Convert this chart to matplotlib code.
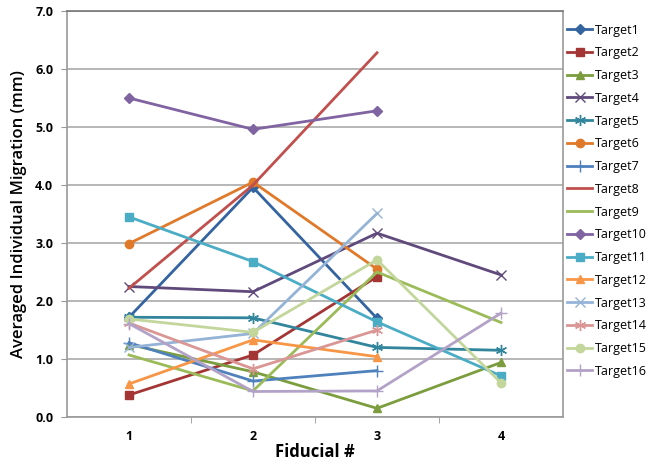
import numpy as np
import matplotlib
matplotlib.use('Agg')
import matplotlib.pyplot as plt

plt.rcParams['font.family'] = ['Open Sans', 'DejaVu Sans']

# 데이터
fiducials = [1, 2, 3, 4]
nan = np.nan
target1 = [1.72, 3.96, 1.70, nan]
target2 = [0.38, 1.07, 2.42, nan]
target3 = [1.25, 0.78, 0.15, 0.94]
target4 = [2.25, 2.16, 3.17, 2.45]
target5 = [1.72, 1.71, 1.20, 1.15]
target6 = [2.99, 4.05, 2.55, nan]
target7 = [1.28, 0.62, 0.80, nan]
target8 = [2.22, 4.00, 6.28, nan]
target9 = [1.07, 0.45, 2.50, 1.63]
target10 = [5.50, 4.96, 5.28, nan]
target11 = [3.45, 2.68, 1.64, 0.71]
target12 = [0.57, 1.33, 1.04, nan]
target13 = [1.20, 1.44, 3.51, nan]
target14 = [1.62, 0.83, 1.50, nan]
target15 = [1.69, 1.46, 2.71, 0.59]
target16 = [1.61, 0.44, 0.45, 1.79]

series = [target1, target2, target3, target4, target5, target6, target7, target8,
          target9, target10, target11, target12, target13, target14, target15, target16]
labels = ['Target%d' % (i + 1) for i in range(16)]
colors = ['#3464A0', '#A33634', '#7B9D3E', '#60497B', '#31859C', '#E07A2A',
          '#4F81BD', '#C0504D', '#9BBB59', '#8064A2', '#4BACC6', '#F79646',
          '#95B3D7', '#D99694', '#C3D69B', '#B3A2C7']
asterisk = (6, 2, 0)
markers = ['D', 's', '^', 'x', asterisk, 'o', '+', None,
           None, 'D', 's', '^', 'x', asterisk, 'o', '+']
msizes = [5, 6, 6, 7, 8, 6, 8, 0, 0, 5, 6, 6, 7, 8, 6, 8]

fig = plt.figure(figsize=(6.52, 4.65), dpi=100)
ax = fig.add_axes([0.1028, 0.1032, 0.7607, 0.8731])

for y, lab, c, m, ms in zip(series, labels, colors, markers, msizes):
    ax.plot(fiducials, y, color=c, marker=m, markersize=ms, linewidth=2,
            markeredgewidth=1.0, label=lab)

ax.set_xlim(0.5, 4.5)
ax.set_ylim(0, 7)
ax.set_yticks(np.arange(0, 7.1, 1.0))
ax.set_yticklabels(['%.1f' % v for v in np.arange(0, 7.1, 1.0)], fontweight='bold', fontsize=9)
ax.set_xticks(fiducials)
ax.set_xticklabels([str(f) for f in fiducials], fontweight='bold', fontsize=9)
ax.set_xticks([1.5, 2.5, 3.5], minor=True)
ax.tick_params(axis='x', which='major', length=0, pad=9)
ax.tick_params(axis='x', which='minor', length=4, color='#999999')
ax.tick_params(axis='y', length=4, color='#999999', pad=6)
ax.yaxis.grid(True, color='#aaaaaa', linewidth=1.2)
ax.set_axisbelow(True)
for s in ax.spines.values():
    s.set_color('#999999')
    s.set_linewidth(1.2)
ax.spines['top'].set_color('#777777')

ax.set_xlabel('Fiducial #', fontweight='bold', fontsize=12, labelpad=0)
ax.set_ylabel('Averaged Individual Migration (mm)', fontweight='semibold', fontsize=12, labelpad=6)

ax.legend(loc='upper left', bbox_to_anchor=(0.862, 0.96), bbox_transform=fig.transFigure,
          frameon=False, fontsize=9, handlelength=2.0, handletextpad=0.2,
          labelspacing=0.78, borderaxespad=0)

fig.savefig('out.png', dpi=100)
